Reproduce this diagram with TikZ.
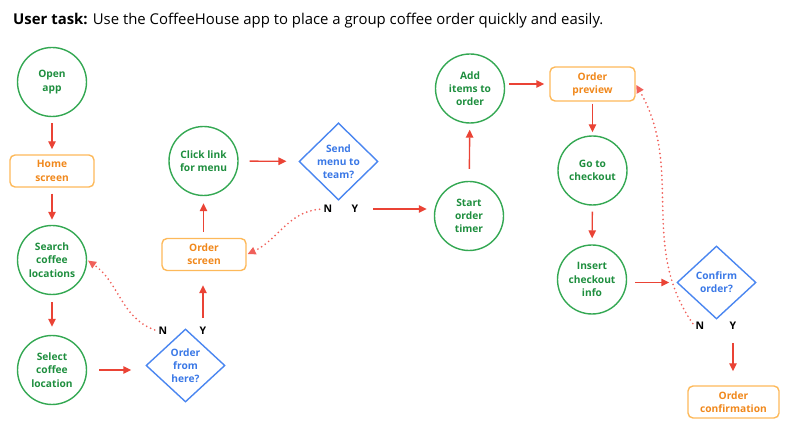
\documentclass[tikz,border=0pt]{standalone}
\usepackage{fontspec}
\setmainfont{Open Sans}
\usetikzlibrary{shapes.geometric,arrows.meta}

\definecolor{gline}{HTML}{34A853}
\definecolor{gtext}{HTML}{1E8E3E}
\definecolor{oline}{HTML}{FDB95A}
\definecolor{otext}{HTML}{F0881C}
\definecolor{bline}{HTML}{4A86F0}
\definecolor{btext}{HTML}{3A78E6}
\definecolor{rline}{HTML}{EA4335}
\definecolor{rdot}{HTML}{F0605A}

\tikzset{
  label font/.style={font=\fontsize{10.2}{13.2}\selectfont\bfseries},
  step circle/.style={circle, draw=gline, line width=1.4pt, minimum size=69pt,
    inner sep=0pt, text=gtext, align=center, label font},
  screen box/.style={rectangle, rounded corners=5pt, draw=oline, line width=1.4pt,
    minimum width=84pt, minimum height=32pt, inner sep=0pt, text=otext, align=center,
    label font},
  choice/.style={diamond, draw=bline, line width=1.4pt, minimum width=79pt,
    minimum height=73pt, inner sep=0pt, text=btext, align=center, label font},
  yn/.style={inner sep=1pt, font=\fontsize{10.5}{12}\selectfont\bfseries, text=black},
  flow/.style={draw=rline, line width=1.4pt, -{Triangle[length=8pt,width=7.5pt]}},
  back/.style={draw=rdot, line width=1.9pt, line cap=round,
    dash pattern=on 0pt off 4.4pt, -{Triangle[length=8pt,width=7.5pt]}}
}

\begin{document}
\begin{tikzpicture}[x=1pt,y=-1pt]
  \useasboundingbox (0,0) rectangle (790,443);

  % heading
  \node[anchor=base west, inner sep=0pt, font=\fontsize{14.9}{16}\selectfont] (title) at (13,25)
    {\textbf{User task:} Use the CoffeeHouse app to place a group coffee order quickly and easily.};

  % first column
  \node[step circle] (open) at (52,82) {Open\\app};
  \node[screen box] (home) at (52,171) {Home\\screen};
  \node[step circle] (search) at (52,260) {Search\\coffee\\locations};
  \node[step circle] (select) at (52,370) {Select\\coffee\\location};

  % second column
  \node[choice] (fromhere) at (185.5,365.5) {Order\\from\\here?};
  \node[yn] (fhN) at (163,331) {N};
  \node[yn] (fhY) at (203,331) {Y};
  \node[screen box] (ordscr) at (204,254.5) {Order\\screen};
  \node[step circle] (click) at (203.5,161) {Click link\\for menu};

  % third column
  \node[choice] (send) at (338.5,161.5) {Send\\menu to\\team?};
  \node[yn] (snN) at (328,209) {N};
  \node[yn] (snY) at (355,209) {Y};
  \node[step circle] (start) at (469,216) {Start\\order\\timer};
  \node[step circle] (add) at (470,88.5) {Add\\items to\\order};

  % checkout column
  \node[screen box, minimum width=85pt, minimum height=34pt] (preview) at (592.5,84) {Order\\preview};
  \node[step circle] (goto) at (592.5,170.5) {Go to\\checkout};
  \node[step circle] (insert) at (592,279.5) {Insert\\checkout\\info};
  \node[choice] (confirm) at (716.5,282.5) {Confirm\\order?};
  \node[yn] (cfN) at (700,326) {N};
  \node[yn] (cfY) at (733,326) {Y};
  \node[screen box, minimum width=91pt] (done) at (733.5,402) {Order\\confirmation};

  % main flow
  \draw[flow, shorten <=6pt, shorten >=5pt] (open) -- (home);
  \draw[flow, shorten <=6pt, shorten >=5pt] (home) -- (search);
  \draw[flow, shorten <=7pt, shorten >=8pt] (search) -- (select);
  \draw[flow, shorten <=12pt, shorten >=14pt] (select.east) -- (select.east -| fromhere.west);
  \draw[flow, shorten <=8pt, shorten >=14pt] (fhY.north) -- (fhY.north |- ordscr.south);
  \draw[flow, shorten <=6pt, shorten >=7pt] (ordscr.north -| click.south) -- (click.south);
  \draw[flow, shorten <=11pt, shorten >=12pt] (click) -- (send);
  \draw[flow, shorten <=14pt, shorten >=7pt] (snY.east) -- (snY.east -| start.west);
  \draw[flow, shorten <=12pt, shorten >=6pt] (start) -- (add);
  \draw[flow, shorten <=4pt, shorten >=5pt] (add.east |- preview.west) -- (preview.west);
  \draw[flow, shorten <=2pt, shorten >=3pt] (preview.south -| goto.north) -- (goto.north);
  \draw[flow, shorten <=6pt, shorten >=6pt] (goto) -- (insert);
  \draw[flow, shorten <=8pt, shorten >=7pt] (insert.east |- confirm.west) -- (confirm.west);
  \draw[flow, shorten <=12pt, shorten >=14pt] (cfY.south) -- (cfY.south |- done.north);

  % "no" branches loop back
  \draw[back, shorten <=3pt, shorten >=1pt] (fhN.west) to[out=160,in=-35] (search.east);
  \draw[back, shorten <=3pt, shorten >=1pt] (snN.west) to[out=185,in=25] (ordscr.east);
  \draw[back, shorten <=3pt, shorten >=1pt] (cfN.west) to[out=125,in=-60] (preview.east);
\end{tikzpicture}
\end{document}
